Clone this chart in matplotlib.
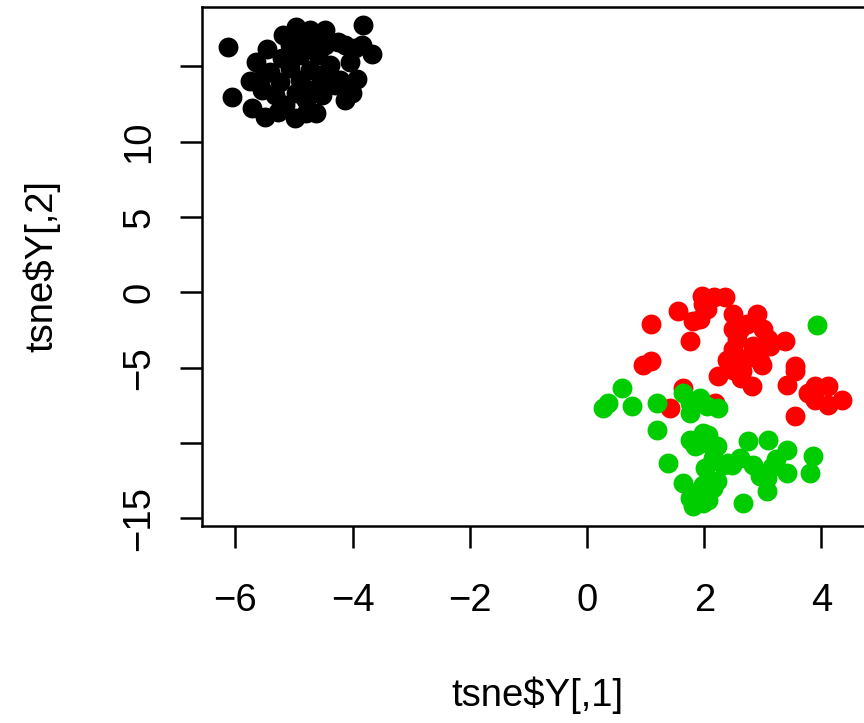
import matplotlib
matplotlib.use("Agg")
import matplotlib.pyplot as plt

plt.rcParams['font.family'] = ['Liberation Sans', 'DejaVu Sans']

# t-SNE coordinates, species 1 (black)
x_black = [-6.13, -6.06, -5.75, -5.65, -5.46, -5.72, -5.49, -5.19, -4.97, -4.73,
           -4.47, -3.82, -3.67, -3.96, -4.13, -4.04, -3.92, -4.13, -4.01, -4.30,
           -4.56, -4.73, -4.90, -5.07, -5.24, -5.32, -5.15, -4.98, -4.62, -4.80,
           -5.41, -4.90, -4.59, -4.39, -5.07, -4.69, -4.25, -5.55, -5.27, -4.86,
           -4.52, -4.42, -4.73, -4.47, -5.20, -4.97, -4.22, -3.84, -5.58, -4.80]
y_black = [16.26, 12.96, 14.02, 15.26, 16.13, 12.24, 11.64, 17.05, 17.58, 17.38,
           17.38, 17.71, 15.80, 16.19, 16.39, 15.27, 14.15, 12.76, 13.23, 13.75,
           14.41, 13.42, 14.08, 14.87, 13.95, 13.09, 12.43, 11.58, 11.91, 12.76,
           14.61, 15.73, 15.73, 15.07, 16.39, 16.59, 16.59, 13.42, 11.97, 16.72,
           13.09, 13.89, 14.74, 16.39, 15.53, 13.23, 14.08, 16.39, 14.08, 11.91]

# species 2 (red)
x_red = [1.09, 0.96, 1.09, 1.55, 1.76, 1.96, 2.17, 2.05, 1.81, 1.93,
         2.35, 2.49, 2.90, 3.00, 2.61, 3.38, 2.49, 2.83, 3.12, 2.95,
         3.55, 2.24, 1.64, 1.42, 2.18, 2.49, 2.65, 2.99, 2.82, 3.55,
         3.41, 3.89, 4.11, 3.89, 4.11, 4.35, 3.55, 2.56, 2.70, 2.39,
         1.98, 2.73, 2.49, 3.09, 2.63, 3.77]
y_red = [-2.10, -4.85, -4.58, -1.22, -3.20, -0.23, -0.30, -1.09, -1.88, -1.75,
         -0.30, -1.42, -1.42, -2.41, -2.41, -3.20, -3.73, -3.59, -3.59, -4.58,
         -4.91, -5.57, -6.37, -7.68, -7.36, -5.18, -5.24, -4.85, -6.23, -5.24,
         -6.17, -6.23, -6.23, -7.16, -7.49, -7.16, -8.21, -3.07, -4.39, -4.52,
         -0.76, -2.08, -2.41, -3.07, -5.71, -6.69]

# species 3 (green)
x_green = [3.92, 0.60, 0.36, 0.27, 0.77, 1.19, 1.19, 1.64, 1.76, 1.93,
           1.76, 2.05, 2.24, 1.98, 1.76, 1.38, 1.64, 1.76, 1.81, 1.98,
           2.22, 2.06, 1.88, 2.15, 2.32, 2.05, 1.84, 2.06, 2.22, 1.81,
           1.98, 2.66, 2.75, 3.09, 3.41, 3.07, 3.41, 3.07, 3.86, 3.81,
           2.47, 2.83, 2.95, 2.61, 3.23, 3.16, 2.41, 1.93, 2.15, 2.01]
y_green = [-2.14, -6.37, -7.36, -7.68, -7.55, -7.36, -9.14, -6.70, -7.36, -7.03,
           -8.01, -7.55, -7.68, -9.33, -9.80, -11.31, -12.63, -13.62, -14.15, -12.76,
           -12.50, -13.75, -10.13, -10.98, -11.44, -9.99, -10.19, -9.47, -10.19, -13.75,
           -13.95, -13.95, -9.86, -9.80, -10.45, -12.30, -11.97, -13.16, -10.85, -11.97,
           -11.44, -11.44, -12.17, -10.98, -11.05, -11.58, -11.31, -13.09, -12.96, -11.64]

x_ticks = [-6, -4, -2, 0, 2, 4]
y_ticks = [-15, -10, -5, 0, 5, 10, 15]
y_tick_labels = ['\u221215', '', '\u22125', '0', '5', '10', '']
x_tick_labels = ['\u22126', '\u22124', '\u22122', '0', '2', '4']

W, H = 864, 723
fig = plt.figure(figsize=(W / 100, H / 100), dpi=100)
left, right, top, bottom = 202, 873, 7, 526
ax = fig.add_axes([left / W, (H - bottom) / H, (right - left) / W, (bottom - top) / H])

ms = 205
ax.scatter(x_black, y_black, s=ms, c='black', linewidths=0, zorder=3)
ax.scatter(x_red, y_red, s=ms, c='#FF0000', linewidths=0, zorder=3)
ax.scatter(x_green, y_green, s=ms, c='#00CD00', linewidths=0, zorder=3)

ax.set_xlim(-6.57, 4.88)
ax.set_ylim(-15.5, 18.93)

for sp in ax.spines.values():
    sp.set_linewidth(1.8)
    sp.set_color('black')

fs = 27.5
ax.set_xticks(x_ticks)
ax.set_xticklabels(x_tick_labels, fontsize=fs)
ax.set_yticks(y_ticks)
ax.set_yticklabels(y_tick_labels, fontsize=fs, rotation=90, va='center')
ax.tick_params(axis='both', direction='out', length=16, width=1.8, color='black')
ax.tick_params(axis='x', pad=25)
ax.tick_params(axis='y', pad=16)

ax.set_xlabel('tsne$Y[,1]', fontsize=fs, va='center')
ax.xaxis.set_label_coords((537 - left) / (right - left), -(695 - bottom) / (bottom - top))
ax.set_ylabel('tsne$Y[,2]', fontsize=fs, va='center')
ax.yaxis.set_label_coords((42 - left) / (right - left), 0.5)

fig.savefig('out.png', dpi=100)
